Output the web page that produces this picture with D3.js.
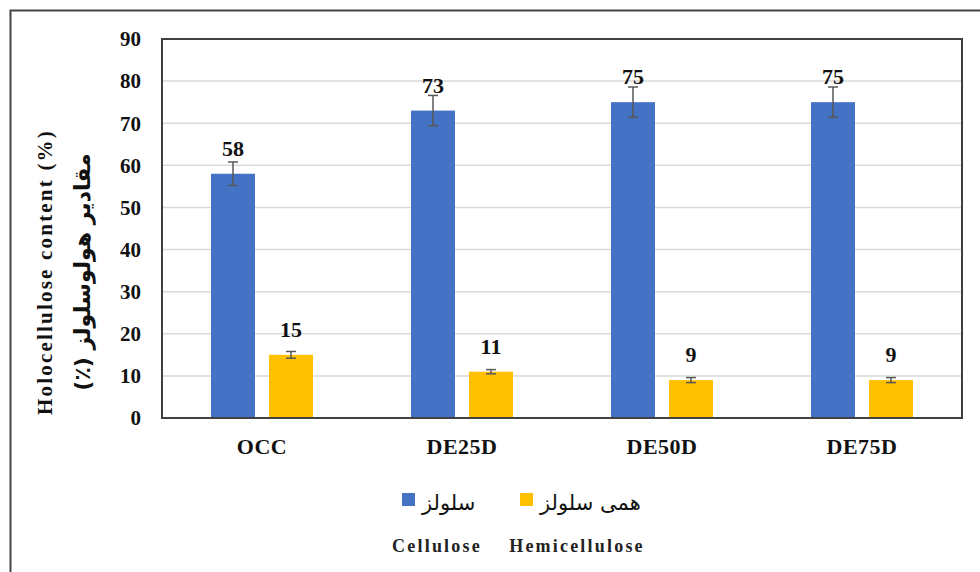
<!DOCTYPE html>
<html><head><meta charset="utf-8">
<script src="https://cdn.jsdelivr.net/npm/d3@7"></script>
<style>body{margin:0;background:#fff}svg{display:block}</style>
</head><body>
<script>
const categories = ["OCC","DE25D","DE50D","DE75D"];
const cellulose = [58,73,75,75];
const celluloseErr = [2.8,3.6,3.6,3.6];
const hemicellulose = [15,11,9,9];
const hemicelluloseErr = [0.8,0.5,0.6,0.6];
const yTicks = [0,10,20,30,40,50,60,70,80,90];
const seriesNamesFa = ["سلولز","همی سلولز"];
const seriesNamesEn = ["Cellulose","Hemicellulose"];
const colors = ["#4472C4","#FFC000"];

const W=980,H=572;
const m={left:162,top:39,right:962,bottom:418};
const svg=d3.select("body").append("svg").attr("width",W).attr("height",H);
const serif="'Liberation Serif','Times New Roman',serif";

// outer frame
svg.append("path").attr("d",`M10.5,${H+5} V10.5 H${W+5}`).attr("fill","none").attr("stroke","#444").attr("stroke-width",2);

const x=d3.scaleBand().domain(categories).range([m.left,m.right]);
const y=d3.scaleLinear().domain([0,90]).range([m.bottom,m.top]);

// gridlines
svg.append("g").selectAll("line").data(yTicks.filter(d=>d>0&&d<90)).join("line")
 .attr("x1",m.left).attr("x2",m.right).attr("y1",d=>y(d)).attr("y2",d=>y(d))
 .attr("stroke","#d9d9d9").attr("stroke-width",1.5);

const series=[{vals:cellulose,err:celluloseErr,off:-51},{vals:hemicellulose,err:hemicelluloseErr,off:7}];
const bw=44;
series.forEach((s,si)=>{
 const g=svg.append("g");
 categories.forEach((c,i)=>{
  const cx=x(c)+x.bandwidth()/2+s.off;
  const v=s.vals[i],e=s.err[i];
  g.append("rect").attr("x",cx).attr("width",bw).attr("y",y(v)).attr("height",y(0)-y(v)).attr("fill",colors[si]);
  const ex=cx+bw/2;
  g.append("line").attr("x1",ex).attr("x2",ex).attr("y1",y(v+e)).attr("y2",y(v-e)).attr("stroke","#595959").attr("stroke-width",1.5);
  [v+e,v-e].forEach(t=>g.append("line").attr("x1",ex-5).attr("x2",ex+5).attr("y1",y(t)).attr("y2",y(t)).attr("stroke","#595959").attr("stroke-width",1.5));
  g.append("text").attr("x",ex).attr("y",y(v)-18).attr("text-anchor","middle")
   .attr("font-family",serif).attr("font-weight","bold").attr("font-size",22).attr("fill","#111").text(v);
 });
});

// plot frame
svg.append("rect").attr("x",m.left).attr("y",m.top).attr("width",m.right-m.left).attr("height",m.bottom-m.top)
 .attr("fill","none").attr("stroke","#404040").attr("stroke-width",2);

// y axis labels
svg.append("g").selectAll("text").data(yTicks).join("text")
 .attr("x",141).attr("y",d=>y(d)).attr("dy","0.35em").attr("text-anchor","end")
 .attr("font-family",serif).attr("font-weight","bold").attr("font-size",21).attr("fill","#111").text(d=>d);

// x labels
svg.append("g").selectAll("text").data(categories).join("text")
 .attr("x",d=>x(d)+x.bandwidth()/2).attr("y",454).attr("text-anchor","middle")
 .attr("font-family",serif).attr("font-weight","bold").attr("font-size",22).attr("letter-spacing",0.5).attr("fill","#111").text(d=>d);

// y title
svg.append("text").attr("transform","translate(52,272) rotate(-90)").attr("text-anchor","middle")
 .attr("font-family",serif).attr("font-weight","bold").attr("font-size",21).attr("letter-spacing",2.2).attr("fill","#111").text("Holocellulose content (%)");
svg.append("text").attr("transform","translate(90,272) rotate(-90)").attr("text-anchor","middle").attr("direction","rtl")
 .attr("font-family","'DejaVu Sans',sans-serif").attr("font-weight","bold").attr("font-size",22).attr("fill","#111").text("مقادیر هولوسلولز (٪)");

// legend
const leg=svg.append("g");
const lx=[402,520];
seriesNamesFa.forEach((n,i)=>{
 leg.append("rect").attr("x",lx[i]).attr("y",493).attr("width",13).attr("height",13).attr("fill",colors[i]);
 leg.append("text").attr("x",lx[i]+20).attr("y",510).attr("text-anchor","start").attr("direction","ltr")
  .attr("font-family","'DejaVu Sans',sans-serif").attr("font-size",21).attr("fill","#111").text(n);
});
const enx=[437,577];
seriesNamesEn.forEach((n,i)=>{
 leg.append("text").attr("x",enx[i]).attr("y",552).attr("text-anchor","middle")
  .attr("font-family",serif).attr("font-weight","bold").attr("font-size",18).attr("letter-spacing",2.2).attr("fill","#222").text(n);
});
</script>
</body></html>
